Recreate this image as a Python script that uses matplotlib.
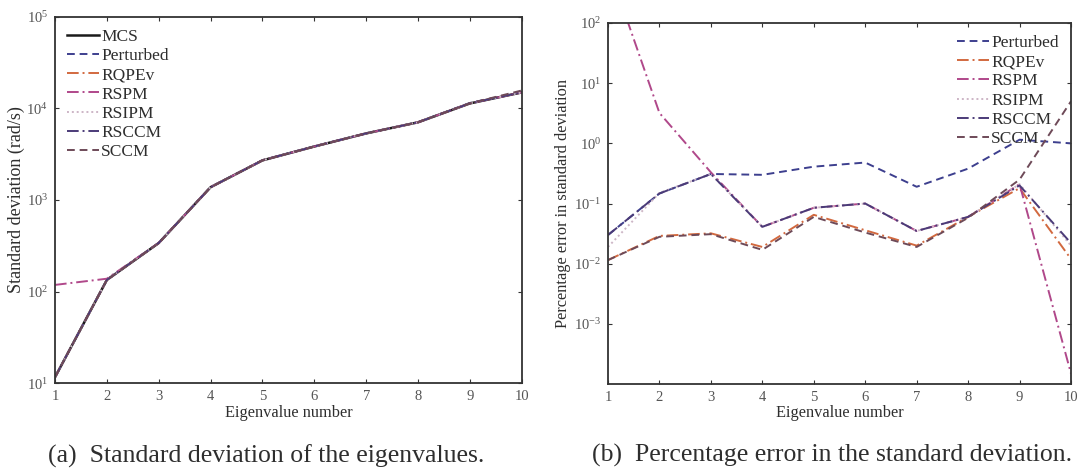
import numpy as np
import matplotlib
matplotlib.use("Agg")
import matplotlib.pyplot as plt
from matplotlib.ticker import NullLocator, FixedLocator

plt.rcParams['font.family'] = ['Liberation Serif', 'DejaVu Serif']
plt.rcParams['mathtext.fontset'] = 'custom'
plt.rcParams['mathtext.rm'] = 'Liberation Serif'
plt.rcParams['mathtext.it'] = 'Liberation Serif:italic'

eig_num = np.arange(1, 11)

# Monte Carlo reference standard deviation (rad/s)
mcs_std = [11.6, 134, 339, 1380, 2710, 3840, 5340, 7060, 11350, 14970]

# Percentage error of each method against MCS
err_perturbed = [0.030, 0.147, 0.31, 0.30, 0.41, 0.48, 0.19, 0.38, 1.15, 1.0]
err_rqpev = [0.0115, 0.029, 0.032, 0.019, 0.065, 0.036, 0.020, 0.060, 0.18, 0.012]
err_rspm = [920, 3.2, 0.33, 0.041, 0.085, 0.10, 0.035, 0.060, 0.21, 0.00015]
err_rsipm = [0.019, 0.15, 0.31, 0.041, 0.085, 0.10, 0.035, 0.060, 0.21, 0.020]
err_rsccm = [0.030, 0.147, 0.31, 0.041, 0.085, 0.10, 0.035, 0.060, 0.20, 0.022]
err_sccm = [0.0115, 0.028, 0.031, 0.017, 0.060, 0.033, 0.019, 0.058, 0.25, 5.0]

method_names = ['Perturbed', 'RQPEv', 'RSPM', 'RSIPM', 'RSCCM', 'SCCM']
method_errs = [err_perturbed, err_rqpev, err_rspm, err_rsipm, err_rsccm, err_sccm]
method_colors = ['#3d3f8e', '#d2693f', '#b0488a', '#cdb6c6', '#4b3b78', '#6e4a58']
method_styles = [(0, (4, 2.5)), (0, (6, 2, 1, 2)), (0, (6, 2, 1, 2)),
                 (0, (1, 1.5)), (0, (6, 2, 1, 2)), (0, (4, 2.5))]

text_col = '#2e2e2e'
tick_col = '#555555'
spine_col = '#333333'

fig = plt.figure(figsize=(10.78, 4.69), dpi=100)
ax1 = fig.add_axes([0.051, 0.183, 0.433, 0.781])
ax2 = fig.add_axes([0.564, 0.181, 0.4295, 0.770])


def style_axes(ax):
    for s in ax.spines.values():
        s.set_color(spine_col)
        s.set_linewidth(1.3)
    ax.tick_params(which='both', direction='in', top=True, right=True,
                   colors=spine_col, labelcolor=tick_col, labelsize=10.5,
                   length=3, width=0.8, pad=5)
    ax.yaxis.set_minor_locator(NullLocator())
    ax.set_xlim(1, 10)
    ax.set_xticks(eig_num)
    ax.set_xlabel('Eigenvalue number', fontsize=11.8, color=text_col, labelpad=1)


def add_legend(ax, loc):
    leg = ax.legend(loc=loc, frameon=False, fontsize=12.5, labelspacing=0.17,
                    handlelength=1.85, handletextpad=0.12, borderaxespad=0.35,
                    borderpad=0.35)
    for t in leg.get_texts():
        t.set_color(text_col)
    return leg


# (a) standard deviation of the eigenvalues
ax1.semilogy(eig_num, mcs_std, color='#1a1a1a', lw=1.8, label='MCS')
mcs = np.array(mcs_std)
for name, err, c, ls in zip(method_names, method_errs, method_colors, method_styles):
    ax1.semilogy(eig_num, mcs * (1 + np.array(err) / 100.0), color=c, ls=ls,
                 lw=1.4, label=name)
style_axes(ax1)
ax1.set_ylim(10, 1e5)
ax1.yaxis.set_major_locator(FixedLocator([1e1, 1e2, 1e3, 1e4, 1e5]))
ax1.set_ylabel('Standard deviation (rad/s)', fontsize=13, color=text_col, labelpad=1)
add_legend(ax1, 'upper left')

# (b) percentage error in the standard deviation
for name, err, c, ls in zip(method_names, method_errs, method_colors, method_styles):
    ax2.semilogy(eig_num, err, color=c, ls=ls, lw=1.4, label=name)
style_axes(ax2)
ax2.set_ylim(1e-4, 1e2)
ax2.yaxis.set_major_locator(FixedLocator([1e-3, 1e-2, 1e-1, 1e0, 1e1, 1e2]))
ax2.set_ylabel('Percentage error in standard deviation', fontsize=11.8,
               color=text_col, labelpad=2)
add_legend(ax2, 'upper right')

fig.text(0.247, 0.028, '(a)  Standard deviation of the eigenvalues.', ha='center',
         va='center', fontsize=18.5, color=text_col)
fig.text(0.772, 0.028, '(b)  Percentage error in the standard deviation.', ha='center',
         va='center', fontsize=18.5, color=text_col)

fig.savefig('out.png', dpi=100, facecolor='white')
